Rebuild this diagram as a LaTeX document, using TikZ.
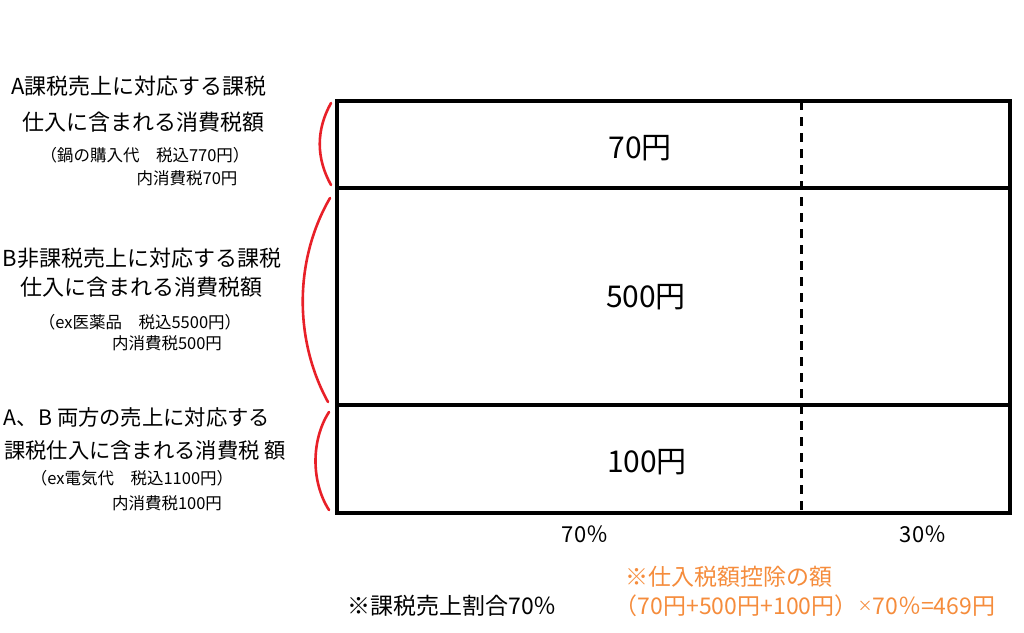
\documentclass[tikz,border=0pt]{standalone}
\usepackage{fontspec}
\setmainfont{Noto Sans CJK JP}
\definecolor{bracered}{RGB}{232,32,40}
\definecolor{noteorange}{RGB}{245,140,60}
\begin{document}
\begin{tikzpicture}[x=1pt,y=-1pt,
  lbl/.style={inner sep=0pt,font=\fontsize{22}{22}\selectfont},
  lblc/.style={inner sep=0pt,font=\fontsize{21.3}{21.3}\selectfont},
  sub/.style={inner sep=0pt,font=\fontsize{16.5}{16.5}\selectfont},
  amt/.style={inner sep=0pt,font=\fontsize{30}{30}\selectfont},
  pct/.style={inner sep=0pt,font=\fontsize{22}{22}\selectfont},
  note/.style={inner sep=0pt,font=\fontsize{23}{23}\selectfont},
  frame/.style={line width=3.2pt},
  brace/.style={draw=bracered,line width=2.6pt,line cap=round},
  split/.style={line width=3pt,dash pattern=on 9pt off 7pt}]
\useasboundingbox (0,0) rectangle (1024,632);
% frame
\coordinate (tl) at (337,101);
\coordinate (br) at (1010,513);
\coordinate (l1) at (337,188);
\coordinate (r1) at (1010,188);
\coordinate (l2) at (337,405);
\coordinate (r2) at (1010,405);
\coordinate (dtop) at (801,101);
\coordinate (dbot) at (801,513);
\draw[frame] (tl) rectangle (br);
\draw[frame] (l1) -- (r1);
\draw[frame] (l2) -- (r2);
\draw[split] (dtop) -- (dbot);
% amounts
\node[amt] (a70) at (640,148) {70円};
\node[amt] (a500) at (646,297) {500円};
\node[amt] (a100) at (647,462) {100円};
% braces
\coordinate (b1s) at (331,103);
\coordinate (b1e) at (331,185);
\coordinate (b2s) at (330,198);
\coordinate (b2e) at (328,402);
\coordinate (b3s) at (329,412);
\coordinate (b3e) at (329,510);
\draw[brace] (b1s) .. controls (316,130) and (316,158) .. (b1e);
\draw[brace] (b2s) .. controls (294,260) and (294,340) .. (b2e);
\draw[brace] (b3s) .. controls (311,440) and (311,482) .. (b3e);
% left labels
\node[lbl] (tA1) at (139,86) {A課税売上に対応する課税};
\node[lbl] (tA2) at (143,122) {仕入に含まれる消費税額};
\node[sub] (tA3) at (145,155) {（鍋の購入代　税込770円）};
\node[sub] (tA4) at (187,178) {内消費税70円};
\node[lbl] (tB1) at (142,258) {B非課税売上に対応する課税};
\node[lbl] (tB2) at (141,287) {仕入に含まれる消費税額};
\node[sub] (tB3) at (140,322) {（ex医薬品　税込5500円）};
\node[sub] (tB4) at (167,343) {内消費税500円};
\node[lblc] (tC1) at (137,417) {A、B 両方の売上に対応する};
\node[lblc] (tC2) at (145,450) {課税仕入に含まれる消費税 額};
\node[sub] (tC3) at (132,478) {（ex電気代　税込1100円）};
\node[sub] (tC4) at (167,503) {内消費税100円};
% percentages
\node[pct] (p70) at (585,534) {70％};
\node[pct] (p30) at (923,534) {30％};
% notes
\node[note] (n1) at (452,606) {※課税売上割合70％};
\node[note,text=noteorange] (n2) at (729,577) {※仕入税額控除の額};
\node[note,text=noteorange] (n3) at (805,606) {（70円+500円+100円）\raisebox{3pt}{\fontsize{15}{15}\selectfont ×}70％=469円};
\end{tikzpicture}
\end{document}
